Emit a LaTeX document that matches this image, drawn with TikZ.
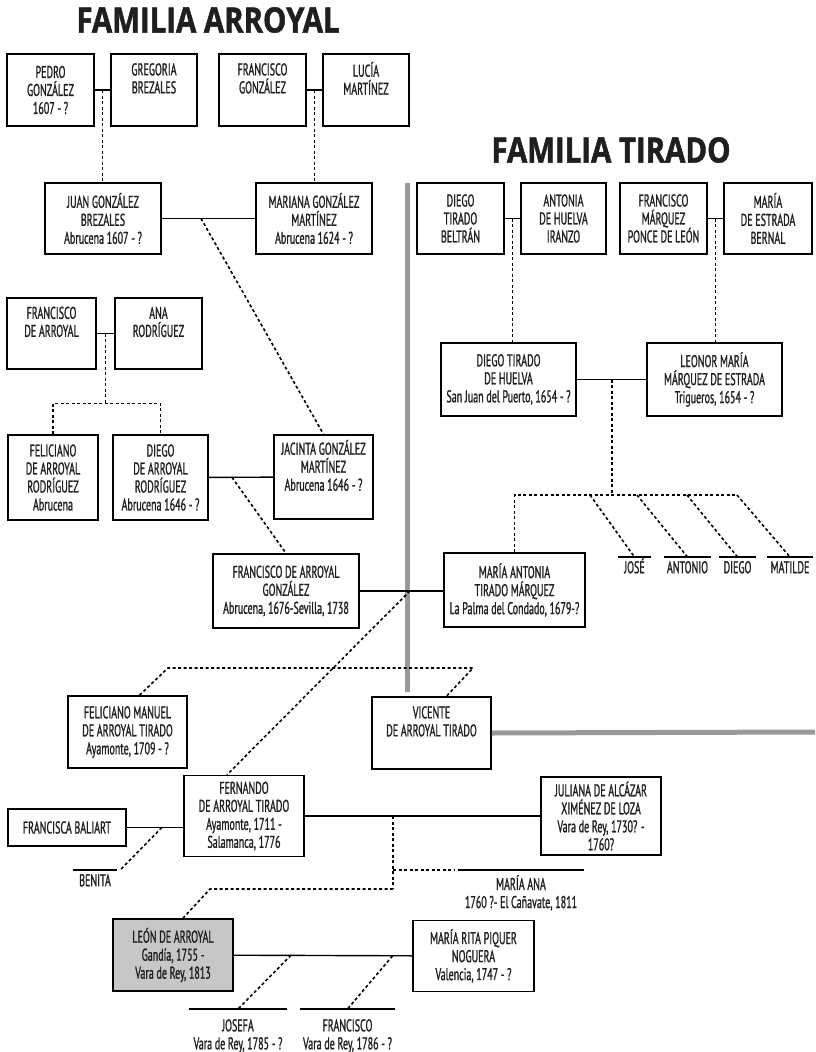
\documentclass[tikz,border=0pt]{standalone}
\usepackage{fontspec}
\setmainfont{PT Sans}[FakeStretch=0.59, FakeBold=1.1]
\newfontfamily\titulo{Open Sans}[FakeStretch=0.84, FakeBold=1.4]
\usetikzlibrary{calc}

\tikzset{
	persona/.style={draw, line width=1.6pt, align=center, inner sep=2pt, text=black!88, font=\fontsize{17}{18}\selectfont},
	hijo/.style={anchor=north, align=center, inner sep=3pt, text=black!88, font=\fontsize{17}{18}\selectfont},
	uno/.style={text height=13pt},
	union/.style={line width=1.4pt},
	linea/.style={line width=1.6pt, dash pattern=on 3pt off 2.5pt},
	barra/.style={line width=5pt, gray!80},
	cabecera/.style={text=black!88, font=\titulo\bfseries\fontsize{35}{40}\selectfont},
}

\begin{document}
\begin{tikzpicture}[x=1pt,y=-1pt]
	\useasboundingbox (0,0) rectangle (815,1052);
	\node[cabecera] (tarroyal) at (208,20) {FAMILIA ARROYAL};
	\node[cabecera] (ttirado) at (611,150) {FAMILIA TIRADO};
	
	% familia Arroyal
	\node[persona, minimum width=87, minimum height=72] (pedro) at (50.5,90) {PEDRO\\GONZÁLEZ\\1607 - ?};
	\node[persona, minimum width=86, minimum height=72] (gregoria) at (154,90) {GREGORIA\\BREZALES\\\strut};
	\node[persona, minimum width=87, minimum height=72] (fgonzalez) at (262.5,90) {FRANCISCO\\GONZÁLEZ\\\strut};
	\node[persona, minimum width=86, minimum height=72] (lucia) at (366,90) {LUCÍA\\MARTÍNEZ\\\strut};
	\node[persona, minimum width=116, minimum height=71] (juan) at (103,218.5) {JUAN GONZÁLEZ\\BREZALES\\Abrucena 1607 - ?};
	\node[persona, minimum width=116, minimum height=71] (mariana) at (314,218.5) {MARIANA GONZÁLEZ\\MARTÍNEZ\\Abrucena 1624 - ?};
	\node[persona, minimum width=89, minimum height=71] (farroyal) at (51.5,333.5) {FRANCISCO\\DE ARROYAL\\\strut};
	\node[persona, minimum width=87, minimum height=71] (ana) at (158.5,333.5) {ANA\\RODRÍGUEZ\\\strut};
	\node[persona, minimum width=90, minimum height=85] (felro) at (53,477.5) {FELICIANO\\DE ARROYAL\\RODRÍGUEZ\\Abrucena};
	\node[persona, minimum width=95, minimum height=85] (diegoar) at (160.5,477.5) {DIEGO\\DE ARROYAL\\RODRÍGUEZ\\Abrucena 1646 - ?};
	\node[persona, minimum width=99, minimum height=84] (jacinta) at (323.5,477) {JACINTA GONZÁLEZ\\MARTÍNEZ\\Abrucena 1646 - ?\\\strut};
	\node[persona, minimum width=146, minimum height=74] (fag) at (286,591) {FRANCISCO DE ARROYAL\\GONZÁLEZ\\Abrucena, 1676-Sevilla, 1738};
	
	% familia Tirado
	\node[persona, minimum width=87, minimum height=71] (dtb) at (460.5,218.5) {DIEGO\\TIRADO\\BELTRÁN};
	\node[persona, minimum width=85, minimum height=71] (ahi) at (563.5,218.5) {ANTONIA\\DE HUELVA\\IRANZO};
	\node[persona, minimum width=87, minimum height=71] (fmp) at (663.5,218.5) {FRANCISCO\\MÁRQUEZ\\PONCE DE LEÓN};
	\node[persona, minimum width=88, minimum height=71] (meb) at (768,218.5) {MARÍA\\DE ESTRADA\\BERNAL};
	\node[persona, minimum width=135, minimum height=73] (dth) at (508.5,379.5) {DIEGO TIRADO\\DE HUELVA\\San Juan del Puerto, 1654 - ?};
	\node[persona, minimum width=135, minimum height=73] (lme) at (714.5,379.5) {LEONOR MARÍA\\MÁRQUEZ DE ESTRADA\\Trigueros, 1654 - ?};
	\node[persona, minimum width=141, minimum height=74] (mat) at (514.5,590) {MARÍA ANTONIA\\TIRADO MÁRQUEZ\\La Palma del Condado, 1679-?};
	\node[hijo, uno, minimum width=33] (jose) at (634.5,557) {JOSÉ};
	\node[hijo, uno, minimum width=43] (antonio) at (687.5,557) {ANTONIO};
	\node[hijo, uno, minimum width=37] (diegoh) at (737.5,557) {DIEGO};
	\node[hijo, uno, minimum width=46] (matilde) at (790,557) {MATILDE};
	
	% descendientes
	\node[persona, minimum width=119, minimum height=72] (felman) at (127.5,732) {FELICIANO MANUEL\\DE ARROYAL TIRADO\\Ayamonte, 1709 - ?};
	\node[persona, minimum width=119, minimum height=72] (vicente) at (431.5,733) {VICENTE\\DE ARROYAL TIRADO\\\strut};
	\node[persona, minimum width=120, minimum height=81] (fernando) at (244,816) {FERNANDO\\DE ARROYAL TIRADO\\Ayamonte, 1711 -\\Salamanca, 1776};
	\node[persona, minimum width=118, minimum height=37] (baliart) at (67,827.5) {FRANCISCA BALIART};
	\node[hijo, uno, minimum width=44] (benita) at (95,870) {BENITA};
	\node[persona, minimum width=120, minimum height=78] (juliana) at (601,816) {JULIANA DE ALCÁZAR\\XIMÉNEZ DE LOZA\\Vara de Rey, 1730? -\\1760?};
	\node[hijo, minimum width=126, inner ysep=5pt] (mana) at (521,870) {MARÍA ANA\\1760 ?- El Cañavate, 1811};
	\node[persona, minimum width=120, minimum height=72, fill=black!22] (leon) at (173,955) {LEÓN DE ARROYAL\\Gandía, 1755 -\\Vara de Rey, 1813};
	\node[persona, minimum width=121, minimum height=71] (rita) at (473.5,956) {MARÍA RITA PIQUER\\NOGUERA\\Valencia, 1747 - ?};
	\node[hijo, minimum width=97, inner ysep=10pt] (josefa) at (238,1009) {JOSEFA\\Vara de Rey, 1785 - ?};
	\node[hijo, minimum width=91, inner ysep=10pt] (fhijo) at (347.5,1009) {FRANCISCO\\Vara de Rey, 1786 - ?};
	
	% barras grises
	\draw[barra] (407,183) -- (407,692);
	\draw[barra] (vicente.east) -- (815,732);
	
	% uniones y lineas de hijos
	\draw[union] (pedro) -- (gregoria);
	\coordinate (pg) at ($(pedro.east)!0.5!(gregoria.west)$);
	\draw[linea] (pg) -- (pg |- juan.north);
	\draw[union] (fgonzalez) -- (lucia);
	\coordinate (fl) at ($(fgonzalez.east)!0.5!(lucia.west)$);
	\draw[linea] (fl) -- (fl |- mariana.north);
	\draw[union] (juan) -- (mariana);
	\coordinate (jm) at ($(juan.east)!0.42!(mariana.west)$);
	\draw[linea] (jm) -- (jacinta.north);
	
	\draw[union] (farroyal) -- (ana);
	\coordinate (fa) at ($(farroyal.east)!0.5!(ana.west)$);
	\draw[linea] (fa) -- ++(0,70) coordinate (fa2);
	\draw[linea] (felro.north) -- (felro.north |- fa2) -- (diegoar.north |- fa2) -- (diegoar.north);
	\draw[union] (diegoar) -- (jacinta);
	\coordinate (dj) at ($(diegoar.east)!0.36!(jacinta.west)$);
	\draw[linea] (dj) -- (fag.north);
	
	\draw[union] (dtb) -- (ahi);
	\coordinate (da) at ($(dtb.east)!0.5!(ahi.west)$);
	\draw[linea] (da) -- (da |- dth.north);
	\draw[union] (fmp) -- (meb);
	\coordinate (fe) at ($(fmp.east)!0.5!(meb.west)$);
	\draw[linea] (fe) -- (fe |- lme.north);
	\draw[union] (dth) -- (lme);
	\coordinate (dl) at ($(dth.east)!0.51!(lme.west)$);
	\draw[linea] (dl) -- (dl |- 0,495) coordinate (dl2);
	\draw[linea] (mat.north) -- (mat.north |- dl2) -- (737,495);
	\foreach \x/\h in {590/jose, 637/antonio, 687/diegoh, 737/matilde}
		\draw[linea] (\x,495) -- (\h.north);
	
	\draw[union] (fag) -- (fag -| mat.west);
	\coordinate (fm) at ($(fag.east)!0.6!(fag.east -| mat.west)$);
	\draw[linea] (fm) -- ([xshift=-17pt]fernando.north);
	\coordinate (hl) at (168,668);
	\coordinate (hr) at (473,668);
	\draw[linea] ([xshift=12pt]felman.north) -- (hl) -- (hr) -- ([xshift=15pt]vicente.north);
	
	\draw[union] (baliart.east) -- (baliart.east -| fernando.west);
	\coordinate (fb) at ($(baliart.east)!0.62!(baliart.east -| fernando.west)$);
	\draw[linea] (fb) -- ([xshift=3pt]benita.north east);
	\draw[union] (fernando) -- (juliana);
	\coordinate (fj) at ($(fernando.east)!0.375!(juliana.west)$);
	\draw[linea] (fj) -- (fj |- 0,889) coordinate (fj2);
	\draw[linea] (fj |- mana.north) -- ([xshift=-3pt]mana.north west);
	\draw[linea] (fj2) -- (210,889) coordinate (fl2) -- ([xshift=10pt]leon.north);
	
	\draw[union] (leon) -- (rita);
	\coordinate (lr1) at ($(leon.east)!0.32!(rita.west)$);
	\coordinate (lr2) at ($(leon.east)!0.89!(rita.west)$);
	\draw[linea] (lr1) -- (josefa.north);
	\draw[linea] (lr2) -- (fhijo.north);
	
	\foreach \h in {jose, antonio, diegoh, matilde, benita, mana, josefa, fhijo}
		\draw[union] (\h.north west) -- (\h.north east);
\end{tikzpicture}
\end{document}
